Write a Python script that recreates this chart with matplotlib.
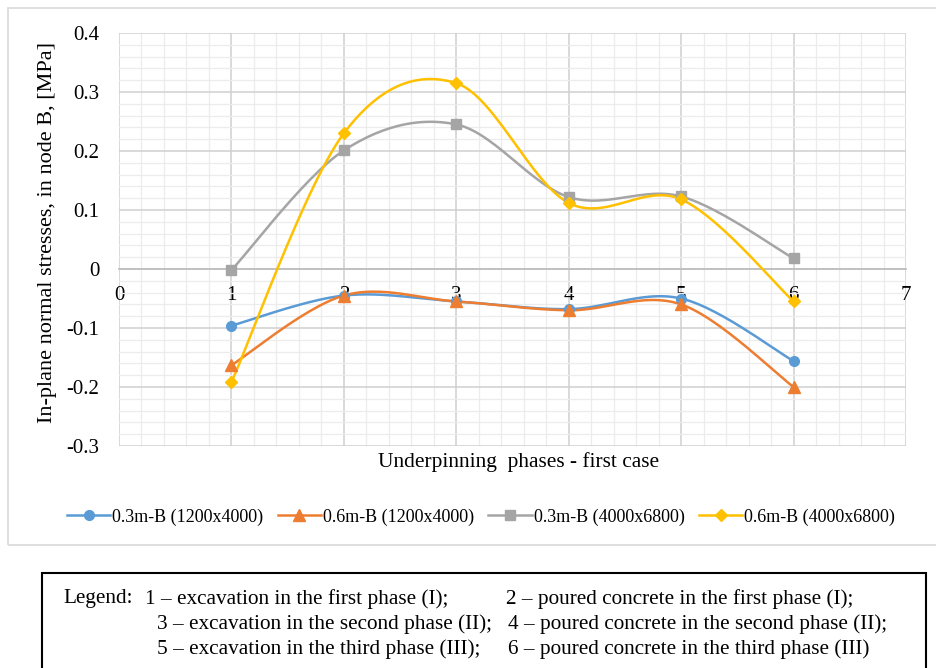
import matplotlib
matplotlib.use('Agg')
import matplotlib.pyplot as plt
from matplotlib.patches import Rectangle
from matplotlib.ticker import MultipleLocator
import numpy as np

plt.rcParams['font.family'] = ['Liberation Serif', 'DejaVu Serif']

# data
phases = [1, 2, 3, 4, 5, 6]
s03_small = [-0.096, -0.045, -0.055, -0.068, -0.050, -0.156]
s06_small = [-0.163, -0.045, -0.055, -0.070, -0.060, -0.200]
s03_large = [-0.002, 0.201, 0.245, 0.122, 0.123, 0.018]
s06_large = [-0.192, 0.230, 0.315, 0.112, 0.118, -0.055]
labels = ['0.3m-B (1200x4000)', '0.6m-B (1200x4000)',
          '0.3m-B (4000x6800)', '0.6m-B (4000x6800)']
colors = ['#5B9BD5', '#ED7D31', '#A5A5A5', '#FFC000']
markers = ['o', '^', 's', 'D']
msizes = [7, 8, 7, 6]

legend_col1 = ['1 \u2013 excavation in the first phase (I);',
               '3 \u2013 excavation in the second phase (II);',
               '5 \u2013 excavation in the third phase (III);']
legend_col2 = ['2 \u2013 poured concrete in the first phase (I);',
               '4 \u2013 poured concrete in the second phase (II);',
               '6 \u2013 poured concrete in the third phase (III)']


def smooth(x, y, n=30):
    """ Excel-like smoothed line (cubic Bezier through points) """
    x = np.asarray(x, float)
    y = np.asarray(y, float)
    px = np.concatenate([[x[0]], x, [x[-1]]])
    py = np.concatenate([[y[0]], y, [y[-1]]])
    t = np.linspace(0, 1, n)[:, None]
    xs, ys = [], []
    for i in range(1, len(px) - 2):
        p0 = np.array([px[i], py[i]])
        p3 = np.array([px[i + 1], py[i + 1]])
        c1 = p0 + (np.array([px[i + 1], py[i + 1]]) - np.array([px[i - 1], py[i - 1]])) / 6
        c2 = p3 - (np.array([px[i + 2], py[i + 2]]) - np.array([px[i], py[i]])) / 6
        b = ((1 - t) ** 3) * p0 + 3 * ((1 - t) ** 2) * t * c1 \
            + 3 * (1 - t) * t ** 2 * c2 + t ** 3 * p3
        xs.append(b[:, 0])
        ys.append(b[:, 1])
    return np.concatenate(xs), np.concatenate(ys)


fig = plt.figure(figsize=(9.37, 6.68), dpi=100)
W, H = 937, 668

# chart area frame and the legend box below it
fig.patches.append(Rectangle((8 / W, 1 - 545 / H), 1.0, (545 - 8) / H,
                             transform=fig.transFigure, fill=False,
                             edgecolor='#d9d9d9', lw=1.2))
fig.patches.append(Rectangle((42 / W, -0.1), (926 - 42) / W, 0.1 + 1 - 573 / H,
                             transform=fig.transFigure, fill=False,
                             edgecolor='black', lw=1.5))

ax = fig.add_axes([119 / W, 1 - 446 / H, (906 - 119) / W, (446 - 33) / H])
ax.set_xlim(0, 7)
ax.set_ylim(-0.3, 0.4)
ax.xaxis.set_major_locator(MultipleLocator(1))
ax.xaxis.set_minor_locator(MultipleLocator(0.2))
ax.yaxis.set_major_locator(MultipleLocator(0.1))
ax.yaxis.set_minor_locator(MultipleLocator(0.02))
ax.grid(which='major', color='#d0d0d0', lw=1.1)
ax.grid(which='minor', color='#ececec', lw=0.9)
ax.set_axisbelow(True)
for s in ['left', 'right', 'top']:
    ax.spines[s].set_visible(False)
ax.spines['bottom'].set_position(('data', 0))
ax.spines['bottom'].set_color('#bfbfbf')
ax.spines['bottom'].set_linewidth(1.3)
ax.tick_params(which='both', length=0)
ax.tick_params(axis='x', labelsize=15, pad=12)
ax.tick_params(axis='y', labelsize=15, pad=14)
ax.set_yticks(np.arange(-0.3, 0.41, 0.1))
ax.set_yticklabels(['-0.3', '-0.2', '-0.1', '0', '0.1', '0.2', '0.3', '0.4'])

series = [s03_small, s06_small, s03_large, s06_large]
for vals, lab, c, m, ms in zip(series, labels, colors, markers, msizes):
    sx, sy = smooth(phases, vals)
    ax.plot(sx, sy, color=c, lw=1.8, zorder=3)
    ax.plot(phases, vals, ls='none', marker=m, ms=ms, color=c, zorder=4)
    ax.plot([], [], color=c, lw=1.8, marker=m, ms=ms, label=lab)

ax.legend(loc='center', bbox_to_anchor=((481 - 119) / (906 - 119),
                                        (1 - 517 / H - (1 - 446 / H)) / ((446 - 33) / H)),
          bbox_transform=ax.transAxes, ncol=4, frameon=False, fontsize=13,
          handlelength=2.4, handletextpad=0.1, columnspacing=0.8)

fig.text(519 / W, 1 - 462 / H, 'Underpinning  phases - first case',
         ha='center', va='center', fontsize=15.4)
fig.text(48 / W, 1 - 232 / H, 'In-plane normal stresses, in node B, [MPa]',
         ha='center', va='center', rotation=90, fontsize=16)

# text legend for the phase numbers
fig.text(63 / W, 1 - 599 / H, 'Legend:', ha='left', va='center', fontsize=15.3)
for i, (t1, t2) in enumerate(zip(legend_col1, legend_col2)):
    y = 1 - (599 + 25 * i) / H
    x1 = [145, 157, 157][i]
    x2 = [506, 508, 508][i]
    fig.text(x1 / W, y, t1, ha='left', va='center', fontsize=15.3)
    fig.text(x2 / W, y, t2, ha='left', va='center', fontsize=15.3)

fig.savefig('out.png', dpi=100)
